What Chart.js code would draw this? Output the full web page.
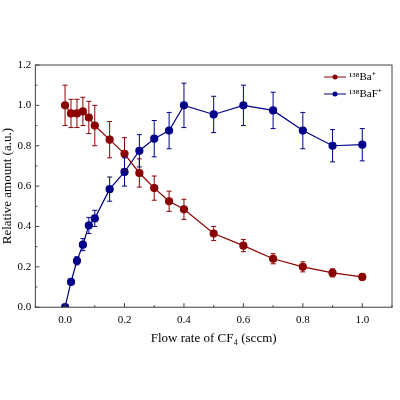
<!DOCTYPE html>
<html>
<head>
<meta charset="utf-8">
<script src="https://cdn.jsdelivr.net/npm/chart.js@4"></script>
<style>
    body { margin: 0; background: #fff; }
    #wrap { width: 400px; height: 400px; }
</style>
</head>
<body>
<div id="wrap"><canvas id="chart"></canvas></div>
<script>
const flow = [ 0, 0.02, 0.04, 0.06, 0.08, 0.1, 0.15, 0.2, 0.25, 0.3, 0.35, 0.4, 0.5, 0.6, 0.7, 0.8, 0.9, 1.0 ];
const ba = [ 1.0, 0.96, 0.96, 0.97, 0.94, 0.9, 0.83, 0.76, 0.665, 0.59, 0.525, 0.485, 0.365, 0.305, 0.24, 0.2, 0.17, 0.15 ];
const baErr = [ 0.1, 0.07, 0.07, 0.07, 0.08, 0.1, 0.09, 0.08, 0.07, 0.06, 0.05, 0.05, 0.035, 0.03, 0.025, 0.025, 0.02, 0.015 ];
const baf = [ 0, 0.125, 0.23, 0.31, 0.405, 0.44, 0.585, 0.67, 0.775, 0.835, 0.875, 1.0, 0.955, 1.0, 0.975, 0.875, 0.8, 0.805 ];
const bafErr = [ 0, 0.01, 0.02, 0.03, 0.04, 0.04, 0.06, 0.07, 0.08, 0.09, 0.09, 0.11, 0.09, 0.1, 0.09, 0.09, 0.08, 0.08 ];
const xTicks = [ 0.0, 0.2, 0.4, 0.6, 0.8, 1.0 ];
const yTicks = [ 0.0, 0.2, 0.4, 0.6, 0.8, 1.0, 1.2 ];
const names = [ '¹³⁸Ba⁺', '¹³⁸BaF⁺' ];
const red = '#8b0000', blue = '#00008b';

const FONT = 'Liberation Serif';

const extras = {
    id: 'extras',
    afterDatasetsDraw( chart )
    {
        const c = chart.ctx, xs = chart.scales.x, ys = chart.scales.y, a = chart.chartArea;
        // error bars
        [ [ ba, baErr, red ], [ baf, bafErr, blue ] ].forEach( function ( s )
        {
            c.strokeStyle = s[ 2 ];
            c.lineWidth = 1;
            flow.forEach( function ( f, i )
            {
                if ( !s[ 1 ][ i ] ) return;
                const px = xs.getPixelForValue( f );
                const y1 = ys.getPixelForValue( s[ 0 ][ i ] + s[ 1 ][ i ] );
                const y2 = ys.getPixelForValue( s[ 0 ][ i ] - s[ 1 ][ i ] );
                c.beginPath();
                c.moveTo( px, y1 ); c.lineTo( px, y2 );
                c.moveTo( px - 2.5, y1 ); c.lineTo( px + 2.5, y1 );
                c.moveTo( px - 2.5, y2 ); c.lineTo( px + 2.5, y2 );
                c.stroke();
            } );
        } );
        // frame and inward ticks
        c.strokeStyle = '#444';
        c.lineWidth = 1;
        c.strokeRect( a.left, a.top, a.right - a.left, a.bottom - a.top );
        c.beginPath();
        for ( let v = -0.1; v <= 1.1001; v += 0.1 ) {
            const px = xs.getPixelForValue( v );
            const major = Math.abs( Math.round( v * 10 ) % 2 ) === 0;
            c.moveTo( px, a.bottom ); c.lineTo( px, a.bottom - ( major ? 4 : 2 ) );
        }
        for ( let v = 0; v <= 1.2001; v += 0.1 ) {
            const py = ys.getPixelForValue( v );
            const major = Math.round( v * 10 ) % 2 === 0;
            c.moveTo( a.left, py ); c.lineTo( a.left + ( major ? 4 : 2 ), py );
        }
        c.stroke();
        // legend
        c.font = '11px ' + FONT;
        c.textBaseline = 'middle';
        [ [ names[ 0 ], red, 77 ], [ names[ 1 ], blue, 94 ] ].forEach( function ( l )
        {
            c.strokeStyle = l[ 1 ]; c.fillStyle = l[ 1 ];
            c.beginPath(); c.moveTo( 324, l[ 2 ] ); c.lineTo( 346, l[ 2 ] ); c.stroke();
            c.beginPath(); c.arc( 335, l[ 2 ], 2.5, 0, Math.PI * 2 ); c.fill();
            c.fillStyle = '#000';
            c.fillText( l[ 0 ], 349, l[ 2 ] );
        } );
    }
};

document.addEventListener( 'DOMContentLoaded', function ()
{
    new Chart( document.getElementById( 'chart' ), {
        type: 'scatter',
        data: {
            datasets: [
                { label: names[ 0 ], data: flow.map( ( f, i ) => ( { x: f, y: ba[ i ] } ) ), showLine: true,
                  borderColor: red, backgroundColor: red, borderWidth: 1.2, pointRadius: 3.5 },
                { label: names[ 1 ], data: flow.map( ( f, i ) => ( { x: f, y: baf[ i ] } ) ), showLine: true,
                  borderColor: blue, backgroundColor: blue, borderWidth: 1.2, pointRadius: 3.5 }
            ]
        },
        options: {
            responsive: true,
            maintainAspectRatio: false,
            animation: false,
            layout: { padding: { top: 65, right: 8, left: 0, bottom: 50 } },
            plugins: { legend: { display: false }, tooltip: { enabled: false } },
            scales: {
                x: {
                    min: -0.1, max: 1.1,
                    afterBuildTicks: s => { s.ticks = xTicks.map( v => ( { value: v } ) ); },
                    ticks: { callback: v => v.toFixed( 1 ), color: '#000', font: { family: FONT, size: 11 }, maxRotation: 0, padding: 2 },
                    grid: { display: false, tickLength: 4 },
                    title: { display: true, text: 'Flow rate of CF₄ (sccm)', color: '#000', font: { family: FONT, size: 13 }, padding: { top: 2 } }
                },
                y: {
                    min: 0, max: 1.2,
                    afterBuildTicks: s => { s.ticks = yTicks.map( v => ( { value: v } ) ); },
                    ticks: { callback: v => v.toFixed( 1 ), color: '#000', font: { family: FONT, size: 11 }, padding: 2 },
                    grid: { display: false, tickLength: 2 },
                    title: { display: true, text: 'Relative amount (a.u.)', color: '#000', font: { family: FONT, size: 13 }, padding: { top: 0, bottom: 0 } }
                }
            }
        },
        plugins: [ extras ]
    } );
} );
</script>
</body>
</html>
